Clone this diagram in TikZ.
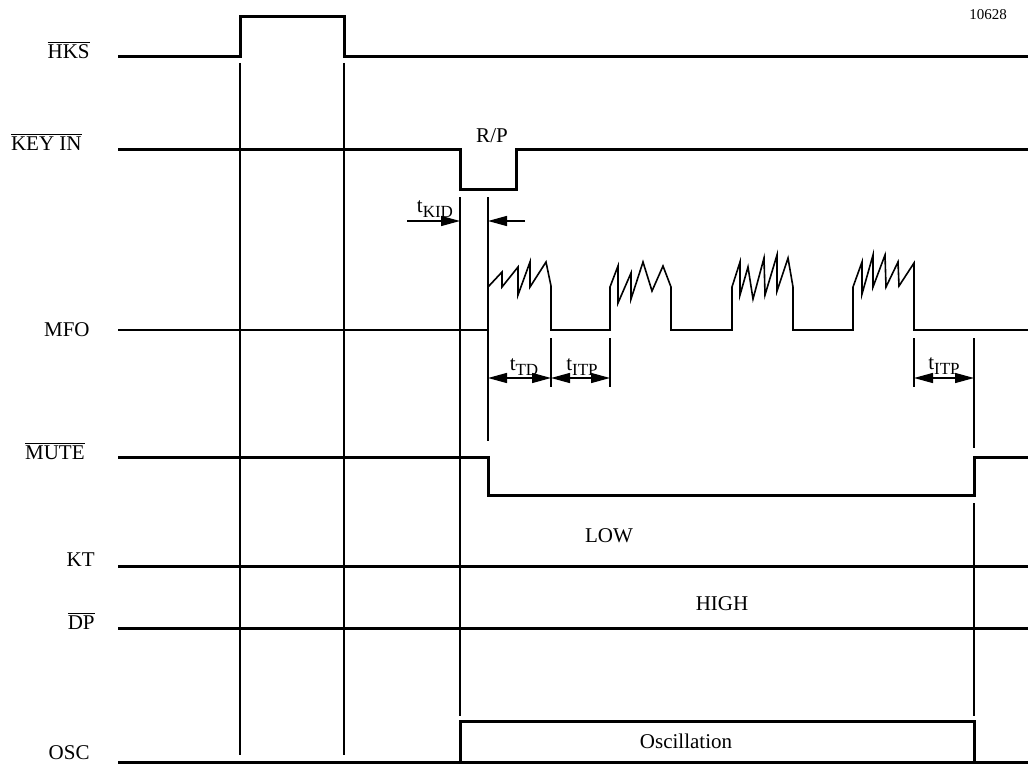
\documentclass[tikz,border=0pt]{standalone}
\usepackage{fontspec}
\setmainfont{Liberation Serif}
\usetikzlibrary{arrows.meta}
\newcommand{\tdel}[1]{t\raisebox{-0.45ex}{\fontsize{8.5}{9}\selectfont #1}}
\begin{document}
\begin{tikzpicture}[x=0.5pt,y=-0.5pt,
  sig/.style={line width=1.5pt},
  burst/.style={line width=0.8pt,line join=miter},
  guide/.style={line width=0.7pt},
  dim/.style={line width=0.7pt,{Triangle[length=9.5pt,width=5pt]}-{Triangle[length=9.5pt,width=5pt]}},
  dimr/.style={line width=0.7pt,-{Triangle[length=9.5pt,width=5pt]}},
  lbl/.style={font=\fontsize{10.5}{12}\selectfont,inner sep=0pt}]

\useasboundingbox (0,0) rectangle (1028,765);

% signal names
\node[lbl,anchor=east] (hks) at (90,50) {$\overline{\mbox{HKS}}$};
\node[lbl,anchor=east] (keyin) at (82,142) {$\overline{\mbox{KEY IN}}$};
\node[lbl,anchor=east] (mfo) at (90,330) {MFO};
\node[lbl,anchor=east] (mute) at (85,451) {$\overline{\mbox{MUTE}}$};
\node[lbl,anchor=east] (kt) at (95,560) {KT};
\node[lbl,anchor=east] (dp) at (95,621) {$\overline{\mbox{DP}}$};
\node[lbl,anchor=east] (osc) at (90,753) {OSC};
\node[font=\fontsize{7.5}{9}\selectfont,inner sep=0pt] (fig) at (988,15) {10628};

% waveforms
\draw[sig] (118,57) -- (240,57) -- (240,17) -- (344,17) -- (344,57) -- (1028,57);
\draw[sig] (118,150) -- (460,150) -- (460,189) -- (516,189) -- (516,150) -- (1028,150);
\draw[burst] (118,330) -- (488,330) -- (488,287) -- (502,272) -- (502,287) -- (518,267)
  -- (518,295) -- (530,262) -- (530,287) -- (546,262) -- (551,286) -- (551,330)
  -- (610,330) -- (610,287) -- (618,266) -- (618,303) -- (631,273) -- (631,299)
  -- (643,262) -- (652,291) -- (663,266) -- (671,287) -- (671,330)
  -- (732,330) -- (732,287) -- (740,262) -- (740,295) -- (748,267) -- (753,299)
  -- (764,258) -- (765,295) -- (777,255) -- (777,291) -- (788,258) -- (793,287) -- (793,330)
  -- (853,330) -- (853,287) -- (862,262) -- (862,294) -- (873,255) -- (873,287)
  -- (885,255) -- (886,287) -- (898,262) -- (899,286) -- (914,263) -- (914,330) -- (1028,330);
\draw[sig] (118,457) -- (488,457) -- (488,495) -- (974,495) -- (974,457) -- (1028,457);
\draw[sig] (118,566) -- (1028,566);
\draw[sig] (118,628) -- (1028,628);
\draw[sig] (118,762) -- (1028,762);
\draw[sig] (460,762) -- (460,721) -- (974,721) -- (974,762);

% timing guides
\draw[guide] (240,63) -- (240,755);
\draw[guide] (344,63) -- (344,755);
\draw[guide] (460,197) -- (460,716);
\draw[guide] (488,197) -- (488,441);
\draw[guide] (551,338) -- (551,387);
\draw[guide] (610,338) -- (610,387);
\draw[guide] (914,338) -- (914,387);
\draw[guide] (974,338) -- (974,448);
\draw[guide] (974,503) -- (974,716);

% delays
\coordinate (kidA) at (407,221);
\coordinate (kidB) at (460,221);
\coordinate (kidC) at (525,221);
\coordinate (kidD) at (488,221);
\coordinate (tdA) at (488,378);
\coordinate (tdB) at (551,378);
\coordinate (itpA) at (610,378);
\coordinate (itpB) at (914,378);
\coordinate (itpC) at (974,378);
\draw[dimr] (kidA) -- (kidB);
\draw[dimr] (kidC) -- (kidD);
\draw[dim] (tdA) -- (tdB);
\draw[dim] (tdB) -- (itpA);
\draw[dim] (itpB) -- (itpC);

% texts
\node[lbl] (kid) at (435,209) {\tdel{KID}};
\node[lbl] (td) at (524,367) {\tdel{TD}};
\node[lbl] (itp) at (582,367) {\tdel{ITP}};
\node[lbl] (itp2) at (944,366) {\tdel{ITP}};
\node[lbl] (rp) at (492,136) {R/P};
\node[lbl] (low) at (609,536) {LOW};
\node[lbl] (high) at (722,604) {HIGH};
\node[lbl] (oscl) at (686,741) {Oscillation};
\end{tikzpicture}
\end{document}
